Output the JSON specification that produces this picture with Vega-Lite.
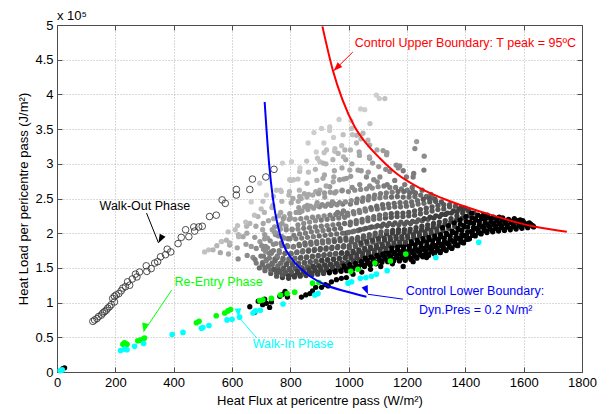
{
"$schema":"https://vega.github.io/schema/vega-lite/v6.json",
"width":525,"height":347,
"autosize":{"type":"none"},
"padding":{"left":57,"top":25,"right":27,"bottom":42},
"background":"white",
"config":{"font":"Liberation Sans","view":{"stroke":"#4d4d4d","strokeWidth":1},
"axis":{"labelFont":"Liberation Sans","titleFont":"Liberation Sans","labelFontSize":13,"titleFontSize":13,"titleFontWeight":"normal","labelColor":"#000","titleColor":"#000","domainColor":"#4d4d4d","tickColor":"#4d4d4d","gridColor":"#b4b4b4","gridDash":[1,2],"gridOpacity":1,"labelFlush":false,"labelOverlap":false}},
"datasets":{
"cloud":[
{"flux":20,"load":0.05,"shade":0},{"flux":26,"load":0.06,"shade":0},
{"flux":661,"load":0.94,"shade":0},{"flux":678,"load":0.86,"shade":0},{"flux":690,"load":1.02,"shade":0},{"flux":705,"load":0.97,"shade":0},{"flux":712,"load":1.05,"shade":0},{"flux":718,"load":0.99,"shade":0},{"flux":729,"load":0.93,"shade":0},{"flux":735,"load":1.01,"shade":0},{"flux":764,"load":1.09,"shade":0},{"flux":773,"load":1.12,"shade":0},{"flux":782,"load":1.16,"shade":0},{"flux":790,"load":1.08,"shade":0},{"flux":838,"load":1.08,"shade":0},{"flux":853,"load":1.11,"shade":0},{"flux":867,"load":1.13,"shade":0},{"flux":876,"load":1.17,"shade":0},{"flux":887,"load":1.22,"shade":0},{"flux":907,"load":1.22,"shade":0},{"flux":920,"load":1.26,"shade":0},{"flux":930,"load":1.24,"shade":0},{"flux":941,"load":1.3,"shade":0},{"flux":958,"load":1.33,"shade":0},{"flux":975,"load":1.35,"shade":0},{"flux":992,"load":1.36,"shade":0},{"flux":1015,"load":1.41,"shade":0},{"flux":1045,"load":1.44,"shade":0},{"flux":1075,"load":1.48,"shade":0},{"flux":1110,"load":1.52,"shade":0},{"flux":1150,"load":1.56,"shade":0},{"flux":1187,"load":1.52,"shade":0},{"flux":1221,"load":1.59,"shade":0},{"flux":1267,"load":1.65,"shade":0},
{"flux":506,"load":1.73,"shade":9},{"flux":520,"load":1.76,"shade":9},{"flux":535,"load":1.76,"shade":8},{"flux":548,"load":1.82,"shade":8},{"flux":565,"load":1.88,"shade":9},{"flux":581,"load":1.9,"shade":8},{"flux":592,"load":1.83,"shade":7},{"flux":611,"load":2.05,"shade":9},{"flux":622,"load":1.98,"shade":8},{"flux":638,"load":1.95,"shade":7},{"flux":650,"load":2.1,"shade":8},{"flux":661,"load":2.14,"shade":8},{"flux":666,"load":1.81,"shade":6},{"flux":672,"load":1.65,"shade":5},{"flux":683,"load":1.57,"shade":4},{"flux":666,"load":2.45,"shade":10},{"flux":689,"load":2.24,"shade":8},{"flux":695,"load":2.72,"shade":10},{"flux":700,"load":2.35,"shade":9},{"flux":705,"load":2.05,"shade":7},{"flux":712,"load":1.92,"shade":6},{"flux":718,"load":2.55,"shade":10},{"flux":725,"load":2.18,"shade":7},{"flux":740,"load":2.4,"shade":8},{"flux":745,"load":2.02,"shade":6},{"flux":752,"load":2.62,"shade":9},{"flux":760,"load":2.25,"shade":7},{"flux":769,"load":2.6,"shade":9},{"flux":773,"load":3.01,"shade":10},{"flux":795,"load":2.55,"shade":8},{"flux":798,"load":2.77,"shade":9},{"flux":804,"load":3.03,"shade":10},{"flux":809,"load":2.5,"shade":7},{"flux":811,"load":2.77,"shade":9},{"flux":832,"load":2.53,"shade":7},{"flux":832,"load":2.89,"shade":9},{"flux":848,"load":2.57,"shade":7},{"flux":861,"load":3.3,"shade":10},{"flux":881,"load":3.45,"shade":10},{"flux":889,"load":3.17,"shade":10},{"flux":901,"load":2.62,"shade":7},{"flux":901,"load":3.03,"shade":9},{"flux":907,"load":3.51,"shade":10},{"flux":912,"load":2.79,"shade":7},{"flux":912,"load":3.01,"shade":8},{"flux":915,"load":3.3,"shade":10},{"flux":924,"load":3.2,"shade":9},{"flux":935,"load":3.53,"shade":10},{"flux":935,"load":3.48,"shade":10},{"flux":935,"load":2.67,"shade":6},{"flux":949,"load":2.81,"shade":7},{"flux":952,"load":3.18,"shade":9},{"flux":964,"load":3.15,"shade":8},{"flux":967,"load":3.64,"shade":10},{"flux":969,"load":2.77,"shade":6},{"flux":987,"load":3.2,"shade":8},{"flux":990,"load":3.06,"shade":7},{"flux":992,"load":2.79,"shade":6},{"flux":1004,"load":2.91,"shade":7},{"flux":1010,"load":3.51,"shade":9},{"flux":1027,"load":3.41,"shade":8},{"flux":1027,"load":3.3,"shade":8},{"flux":1032,"load":2.91,"shade":6},{"flux":1036,"load":3.17,"shade":7},{"flux":1041,"load":3.79,"shade":10},{"flux":1049,"load":3.44,"shade":8},{"flux":1055,"load":3.78,"shade":10},{"flux":1061,"load":2.81,"shade":5},{"flux":1072,"load":3.27,"shade":7},{"flux":1072,"load":3.08,"shade":6},{"flux":1082,"load":3.01,"shade":6},{"flux":1086,"load":2.77,"shade":5},{"flux":1095,"load":3.99,"shade":10},{"flux":1105,"load":3.94,"shade":10},{"flux":1107,"load":2.81,"shade":5},{"flux":1118,"load":3.19,"shade":6},{"flux":1124,"load":3.94,"shade":9},{"flux":1130,"load":3.13,"shade":6},{"flux":1141,"load":2.89,"shade":5},{"flux":1170,"load":2.94,"shade":5},{"flux":1175,"load":2.97,"shade":5},{"flux":1198,"load":2.81,"shade":4},{"flux":1221,"load":2.81,"shade":4},{"flux":1227,"load":3.22,"shade":5},{"flux":1233,"load":3.32,"shade":6},{"flux":1258,"load":2.91,"shade":4},{"flux":1259,"load":3.11,"shade":5},
{"flux":560,"load":1.72,"shade":7},{"flux":563,"load":1.88,"shade":9},{"flux":588,"load":1.7,"shade":7},{"flux":592,"load":1.86,"shade":8},{"flux":587,"load":2.02,"shade":9},{"flux":621,"load":1.63,"shade":5},{"flux":618,"load":1.79,"shade":7},{"flux":623,"load":1.95,"shade":8},{"flux":619,"load":2.11,"shade":9},{"flux":652,"load":1.68,"shade":5},{"flux":648,"load":1.84,"shade":6},{"flux":651,"load":2.0,"shade":7},{"flux":647,"load":2.16,"shade":9},{"flux":679,"load":1.62,"shade":4},{"flux":683,"load":1.78,"shade":5},{"flux":678,"load":1.94,"shade":6},{"flux":682,"load":2.1,"shade":7},{"flux":677,"load":2.26,"shade":9},{"flux":712,"load":1.98,"shade":6},{"flux":707,"load":2.14,"shade":7},{"flux":711,"load":2.3,"shade":8},{"flux":706,"load":2.46,"shade":9},{"flux":738,"load":2.05,"shade":6},{"flux":743,"load":2.21,"shade":7},{"flux":737,"load":2.37,"shade":8},{"flux":742,"load":2.53,"shade":9},{"flux":772,"load":2.14,"shade":6},{"flux":767,"load":2.3,"shade":7},{"flux":771,"load":2.46,"shade":8},{"flux":766,"load":2.62,"shade":9},{"flux":798,"load":2.28,"shade":6},{"flux":803,"load":2.44,"shade":7},{"flux":797,"load":2.6,"shade":8},{"flux":802,"load":2.76,"shade":9},{"flux":832,"load":2.3,"shade":6},{"flux":827,"load":2.46,"shade":7},{"flux":831,"load":2.62,"shade":8},{"flux":826,"load":2.78,"shade":9},{"flux":833,"load":2.94,"shade":10},{"flux":858,"load":2.4,"shade":6},{"flux":863,"load":2.56,"shade":7},{"flux":857,"load":2.72,"shade":8},{"flux":862,"load":2.88,"shade":9},{"flux":856,"load":3.04,"shade":9},{"flux":892,"load":2.44,"shade":6},{"flux":887,"load":2.6,"shade":7},{"flux":891,"load":2.76,"shade":8},{"flux":886,"load":2.92,"shade":8},{"flux":893,"load":3.08,"shade":9},{"flux":918,"load":2.52,"shade":6},{"flux":923,"load":2.68,"shade":7},{"flux":917,"load":2.84,"shade":7},{"flux":922,"load":3.0,"shade":8},{"flux":916,"load":3.16,"shade":9},{"flux":952,"load":2.58,"shade":6},{"flux":947,"load":2.74,"shade":7},{"flux":951,"load":2.9,"shade":7},{"flux":946,"load":3.06,"shade":8},{"flux":953,"load":3.22,"shade":9},{"flux":948,"load":3.38,"shade":10},{"flux":978,"load":2.62,"shade":6},{"flux":983,"load":2.78,"shade":6},{"flux":977,"load":2.94,"shade":7},{"flux":982,"load":3.1,"shade":8},{"flux":976,"load":3.26,"shade":9},{"flux":981,"load":3.42,"shade":9},{"flux":1012,"load":2.66,"shade":5},{"flux":1007,"load":2.82,"shade":6},{"flux":1011,"load":3.0,"shade":7},{"flux":1006,"load":3.2,"shade":8},{"flux":1013,"load":3.42,"shade":9},{"flux":1008,"load":3.62,"shade":10},{"flux":1038,"load":2.7,"shade":5},{"flux":1043,"load":2.9,"shade":6},{"flux":1037,"load":3.12,"shade":7},{"flux":1042,"load":3.36,"shade":8},{"flux":1072,"load":2.68,"shade":5},{"flux":1067,"load":2.88,"shade":6},{"flux":1071,"load":3.1,"shade":7},{"flux":1066,"load":3.34,"shade":8},{"flux":1073,"load":3.58,"shade":9},{"flux":1098,"load":2.74,"shade":5},{"flux":1103,"load":2.96,"shade":6},{"flux":1097,"load":3.2,"shade":7},{"flux":1132,"load":2.7,"shade":4},{"flux":1127,"load":2.92,"shade":5},{"flux":1131,"load":3.16,"shade":6},{"flux":1158,"load":2.76,"shade":4},{"flux":1163,"load":2.98,"shade":5},{"flux":1192,"load":2.7,"shade":4},{"flux":1187,"load":2.9,"shade":4},{"flux":1218,"load":2.66,"shade":3},{"flux":1223,"load":2.86,"shade":4},{"flux":1252,"load":2.62,"shade":3},{"flux":1282,"load":2.56,"shade":3},
{"flux":694,"load":1.5,"shade":3},{"flux":705,"load":1.58,"shade":4},{"flux":699,"load":1.67,"shade":4},{"flux":708,"load":1.77,"shade":5},{"flux":696,"load":1.88,"shade":6},
{"flux":713,"load":1.46,"shade":3},{"flux":724,"load":1.53,"shade":3},{"flux":718,"load":1.62,"shade":4},{"flux":727,"load":1.71,"shade":4},{"flux":715,"load":1.81,"shade":5},{"flux":722,"load":1.93,"shade":6},
{"flux":733,"load":1.42,"shade":2},{"flux":744,"load":1.48,"shade":3},{"flux":738,"load":1.55,"shade":3},{"flux":747,"load":1.63,"shade":3},{"flux":735,"load":1.73,"shade":4},{"flux":742,"load":1.84,"shade":5},{"flux":749,"load":1.98,"shade":5},
{"flux":753,"load":1.38,"shade":2},{"flux":764,"load":1.44,"shade":2},{"flux":758,"load":1.5,"shade":2},{"flux":767,"load":1.57,"shade":3},{"flux":755,"load":1.65,"shade":3},{"flux":762,"load":1.75,"shade":4},{"flux":769,"load":1.86,"shade":4},{"flux":751,"load":2.0,"shade":6},{"flux":765,"load":2.12,"shade":6},
{"flux":773,"load":1.36,"shade":1},{"flux":784,"load":1.42,"shade":2},{"flux":778,"load":1.48,"shade":2},{"flux":787,"load":1.55,"shade":2},{"flux":775,"load":1.62,"shade":3},{"flux":782,"load":1.71,"shade":3},{"flux":789,"load":1.82,"shade":4},{"flux":771,"load":1.95,"shade":5},{"flux":785,"load":2.1,"shade":6},{"flux":779,"load":2.24,"shade":7},
{"flux":794,"load":1.35,"shade":1},{"flux":805,"load":1.41,"shade":1},{"flux":799,"load":1.47,"shade":2},{"flux":808,"load":1.54,"shade":2},{"flux":796,"load":1.61,"shade":3},{"flux":803,"load":1.7,"shade":3},{"flux":810,"load":1.8,"shade":4},{"flux":792,"load":1.92,"shade":4},{"flux":806,"load":2.06,"shade":5},{"flux":800,"load":2.22,"shade":6},
{"flux":814,"load":1.37,"shade":1},{"flux":825,"load":1.43,"shade":1},{"flux":819,"load":1.49,"shade":2},{"flux":828,"load":1.56,"shade":2},{"flux":816,"load":1.64,"shade":3},{"flux":823,"load":1.73,"shade":3},{"flux":830,"load":1.84,"shade":3},{"flux":812,"load":1.97,"shade":4},{"flux":826,"load":2.12,"shade":5},{"flux":820,"load":2.3,"shade":6},
{"flux":834,"load":1.38,"shade":1},{"flux":845,"load":1.44,"shade":1},{"flux":839,"load":1.5,"shade":1},{"flux":848,"load":1.57,"shade":2},{"flux":836,"load":1.65,"shade":2},{"flux":843,"load":1.75,"shade":3},{"flux":850,"load":1.86,"shade":3},{"flux":832,"load":1.99,"shade":4},{"flux":846,"load":2.14,"shade":5},{"flux":840,"load":2.32,"shade":6},{"flux":837,"load":2.5,"shade":7},
{"flux":854,"load":1.39,"shade":1},{"flux":865,"load":1.45,"shade":1},{"flux":859,"load":1.51,"shade":1},{"flux":868,"load":1.58,"shade":2},{"flux":856,"load":1.66,"shade":2},{"flux":863,"load":1.76,"shade":3},{"flux":870,"load":1.87,"shade":3},{"flux":852,"load":2.0,"shade":4},{"flux":866,"load":2.16,"shade":5},{"flux":860,"load":2.34,"shade":6},{"flux":857,"load":2.52,"shade":7},
{"flux":874,"load":1.4,"shade":1},{"flux":885,"load":1.46,"shade":1},{"flux":879,"load":1.52,"shade":1},{"flux":888,"load":1.59,"shade":2},{"flux":876,"load":1.67,"shade":2},{"flux":883,"load":1.77,"shade":3},{"flux":890,"load":1.88,"shade":3},{"flux":872,"load":2.02,"shade":4},{"flux":886,"load":2.18,"shade":5},{"flux":880,"load":2.36,"shade":6},{"flux":877,"load":2.55,"shade":7},
{"flux":894,"load":1.41,"shade":1},{"flux":905,"load":1.47,"shade":1},{"flux":899,"load":1.53,"shade":1},{"flux":908,"load":1.6,"shade":1},{"flux":896,"load":1.68,"shade":2},{"flux":903,"load":1.78,"shade":2},{"flux":910,"load":1.89,"shade":3},{"flux":892,"load":2.03,"shade":4},{"flux":906,"load":2.19,"shade":4},{"flux":900,"load":2.38,"shade":5},{"flux":897,"load":2.57,"shade":6},
{"flux":914,"load":1.42,"shade":1},{"flux":925,"load":1.48,"shade":1},{"flux":919,"load":1.54,"shade":1},{"flux":928,"load":1.61,"shade":1},{"flux":916,"load":1.69,"shade":2},{"flux":923,"load":1.79,"shade":2},{"flux":930,"load":1.9,"shade":3},{"flux":912,"load":2.04,"shade":4},{"flux":926,"load":2.2,"shade":4},{"flux":920,"load":2.39,"shade":5},{"flux":917,"load":2.58,"shade":6},
{"flux":934,"load":1.43,"shade":0},{"flux":945,"load":1.49,"shade":1},{"flux":939,"load":1.55,"shade":1},{"flux":948,"load":1.62,"shade":1},{"flux":936,"load":1.7,"shade":2},{"flux":943,"load":1.8,"shade":2},{"flux":950,"load":1.91,"shade":3},{"flux":932,"load":2.05,"shade":3},{"flux":946,"load":2.21,"shade":4},{"flux":940,"load":2.4,"shade":5},{"flux":937,"load":2.59,"shade":6},{"flux":944,"load":2.45,"shade":5},
{"flux":954,"load":1.44,"shade":0},{"flux":965,"load":1.5,"shade":1},{"flux":959,"load":1.56,"shade":1},{"flux":968,"load":1.63,"shade":1},{"flux":956,"load":1.71,"shade":2},{"flux":963,"load":1.81,"shade":2},{"flux":970,"load":1.92,"shade":2},{"flux":952,"load":2.06,"shade":3},{"flux":966,"load":2.22,"shade":4},{"flux":960,"load":2.41,"shade":5},{"flux":957,"load":2.6,"shade":6},{"flux":962,"load":2.3,"shade":4},
{"flux":974,"load":1.45,"shade":0},{"flux":985,"load":1.51,"shade":0},{"flux":979,"load":1.57,"shade":1},{"flux":988,"load":1.64,"shade":1},{"flux":976,"load":1.72,"shade":1},{"flux":983,"load":1.82,"shade":2},{"flux":990,"load":1.93,"shade":2},{"flux":972,"load":2.07,"shade":3},{"flux":986,"load":2.23,"shade":4},{"flux":980,"load":2.42,"shade":4},{"flux":977,"load":2.61,"shade":5},{"flux":982,"load":2.32,"shade":4},
{"flux":993,"load":1.46,"shade":0},{"flux":1004,"load":1.52,"shade":0},{"flux":998,"load":1.57,"shade":1},{"flux":1008,"load":1.64,"shade":1},{"flux":995,"load":1.7,"shade":1},{"flux":1002,"load":1.79,"shade":2},{"flux":1009,"load":1.88,"shade":2},{"flux":991,"load":2.0,"shade":2},{"flux":1005,"load":2.12,"shade":3},{"flux":997,"load":2.26,"shade":4},{"flux":1006,"load":2.42,"shade":4},{"flux":999,"load":2.6,"shade":5},
{"flux":1014,"load":1.48,"shade":0},{"flux":1025,"load":1.53,"shade":0},{"flux":1019,"load":1.58,"shade":1},{"flux":1028,"load":1.65,"shade":1},{"flux":1016,"load":1.72,"shade":1},{"flux":1023,"load":1.81,"shade":2},{"flux":1030,"load":1.9,"shade":2},{"flux":1012,"load":2.02,"shade":3},{"flux":1026,"load":2.14,"shade":3},{"flux":1018,"load":2.28,"shade":4},{"flux":1027,"load":2.44,"shade":4},{"flux":1021,"load":2.62,"shade":5},
{"flux":1034,"load":1.5,"shade":0},{"flux":1045,"load":1.55,"shade":0},{"flux":1039,"load":1.6,"shade":1},{"flux":1048,"load":1.67,"shade":1},{"flux":1036,"load":1.74,"shade":1},{"flux":1043,"load":1.83,"shade":2},{"flux":1050,"load":1.92,"shade":2},{"flux":1032,"load":2.04,"shade":3},{"flux":1046,"load":2.16,"shade":3},{"flux":1038,"load":2.3,"shade":4},{"flux":1047,"load":2.46,"shade":4},{"flux":1041,"load":2.63,"shade":5},
{"flux":1054,"load":1.52,"shade":0},{"flux":1065,"load":1.57,"shade":0},{"flux":1059,"load":1.62,"shade":1},{"flux":1068,"load":1.69,"shade":1},{"flux":1056,"load":1.76,"shade":1},{"flux":1063,"load":1.85,"shade":2},{"flux":1070,"load":1.94,"shade":2},{"flux":1052,"load":2.06,"shade":3},{"flux":1066,"load":2.18,"shade":3},{"flux":1058,"load":2.32,"shade":4},{"flux":1067,"load":2.48,"shade":4},{"flux":1061,"load":2.64,"shade":5},
{"flux":1074,"load":1.54,"shade":0},{"flux":1085,"load":1.59,"shade":0},{"flux":1079,"load":1.64,"shade":1},{"flux":1088,"load":1.71,"shade":1},{"flux":1076,"load":1.78,"shade":1},{"flux":1083,"load":1.87,"shade":2},{"flux":1090,"load":1.96,"shade":2},{"flux":1072,"load":2.08,"shade":3},{"flux":1086,"load":2.2,"shade":3},{"flux":1078,"load":2.34,"shade":4},{"flux":1087,"load":2.5,"shade":4},{"flux":1081,"load":2.65,"shade":5},
{"flux":1094,"load":1.56,"shade":0},{"flux":1105,"load":1.61,"shade":0},{"flux":1099,"load":1.66,"shade":1},{"flux":1108,"load":1.72,"shade":1},{"flux":1096,"load":1.79,"shade":1},{"flux":1103,"load":1.88,"shade":2},{"flux":1110,"load":1.97,"shade":2},{"flux":1092,"load":2.09,"shade":3},{"flux":1106,"load":2.21,"shade":3},{"flux":1098,"load":2.35,"shade":3},{"flux":1107,"load":2.51,"shade":4},{"flux":1101,"load":2.67,"shade":5},
{"flux":1114,"load":1.58,"shade":0},{"flux":1125,"load":1.63,"shade":0},{"flux":1119,"load":1.68,"shade":0},{"flux":1128,"load":1.74,"shade":0},{"flux":1116,"load":1.81,"shade":1},{"flux":1123,"load":1.9,"shade":1},{"flux":1130,"load":1.99,"shade":1},{"flux":1112,"load":2.1,"shade":2},{"flux":1126,"load":2.22,"shade":2},{"flux":1118,"load":2.36,"shade":3},{"flux":1127,"load":2.52,"shade":4},{"flux":1121,"load":2.68,"shade":4},
{"flux":1134,"load":1.59,"shade":0},{"flux":1145,"load":1.64,"shade":0},{"flux":1139,"load":1.69,"shade":0},{"flux":1148,"load":1.75,"shade":0},{"flux":1136,"load":1.82,"shade":1},{"flux":1143,"load":1.91,"shade":1},{"flux":1150,"load":2.0,"shade":1},{"flux":1132,"load":2.11,"shade":2},{"flux":1146,"load":2.23,"shade":2},{"flux":1138,"load":2.37,"shade":3},{"flux":1147,"load":2.52,"shade":3},{"flux":1141,"load":2.66,"shade":4},
{"flux":1154,"load":1.6,"shade":0},{"flux":1165,"load":1.65,"shade":0},{"flux":1159,"load":1.7,"shade":0},{"flux":1168,"load":1.76,"shade":0},{"flux":1156,"load":1.83,"shade":1},{"flux":1163,"load":1.92,"shade":1},{"flux":1170,"load":2.01,"shade":1},{"flux":1152,"load":2.12,"shade":2},{"flux":1166,"load":2.24,"shade":2},{"flux":1158,"load":2.38,"shade":3},{"flux":1167,"load":2.53,"shade":3},{"flux":1161,"load":2.66,"shade":4},
{"flux":1174,"load":1.6,"shade":0},{"flux":1185,"load":1.65,"shade":0},{"flux":1179,"load":1.7,"shade":0},{"flux":1188,"load":1.76,"shade":0},{"flux":1176,"load":1.83,"shade":0},{"flux":1183,"load":1.92,"shade":1},{"flux":1190,"load":2.01,"shade":1},{"flux":1172,"load":2.12,"shade":2},{"flux":1186,"load":2.24,"shade":2},{"flux":1178,"load":2.38,"shade":3},{"flux":1187,"load":2.52,"shade":3},{"flux":1181,"load":2.64,"shade":4},
{"flux":1194,"load":1.61,"shade":0},{"flux":1205,"load":1.66,"shade":0},{"flux":1199,"load":1.71,"shade":0},{"flux":1208,"load":1.77,"shade":0},{"flux":1196,"load":1.84,"shade":0},{"flux":1203,"load":1.93,"shade":1},{"flux":1210,"load":2.02,"shade":1},{"flux":1192,"load":2.13,"shade":2},{"flux":1206,"load":2.25,"shade":2},{"flux":1198,"load":2.39,"shade":3},{"flux":1207,"load":2.52,"shade":3},{"flux":1201,"load":2.62,"shade":4},
{"flux":1214,"load":1.62,"shade":0},{"flux":1225,"load":1.67,"shade":0},{"flux":1219,"load":1.72,"shade":0},{"flux":1228,"load":1.78,"shade":0},{"flux":1216,"load":1.85,"shade":0},{"flux":1223,"load":1.94,"shade":1},{"flux":1230,"load":2.03,"shade":1},{"flux":1212,"load":2.14,"shade":2},{"flux":1226,"load":2.26,"shade":2},{"flux":1218,"load":2.4,"shade":3},{"flux":1227,"load":2.53,"shade":3},{"flux":1221,"load":2.6,"shade":3},
{"flux":1234,"load":1.64,"shade":0},{"flux":1245,"load":1.69,"shade":0},{"flux":1239,"load":1.74,"shade":0},{"flux":1248,"load":1.8,"shade":0},{"flux":1236,"load":1.87,"shade":0},{"flux":1243,"load":1.96,"shade":1},{"flux":1250,"load":2.05,"shade":1},{"flux":1232,"load":2.16,"shade":2},{"flux":1246,"load":2.28,"shade":2},{"flux":1238,"load":2.42,"shade":3},{"flux":1247,"load":2.55,"shade":3},
{"flux":1254,"load":1.66,"shade":0},{"flux":1265,"load":1.71,"shade":0},{"flux":1259,"load":1.76,"shade":0},{"flux":1268,"load":1.82,"shade":0},{"flux":1256,"load":1.89,"shade":0},{"flux":1263,"load":1.98,"shade":1},{"flux":1270,"load":2.07,"shade":1},{"flux":1252,"load":2.18,"shade":2},{"flux":1266,"load":2.3,"shade":2},{"flux":1258,"load":2.43,"shade":3},{"flux":1267,"load":2.53,"shade":3},
{"flux":1274,"load":1.68,"shade":0},{"flux":1285,"load":1.73,"shade":0},{"flux":1279,"load":1.78,"shade":0},{"flux":1288,"load":1.84,"shade":0},{"flux":1276,"load":1.91,"shade":0},{"flux":1283,"load":2.0,"shade":1},{"flux":1290,"load":2.09,"shade":1},{"flux":1272,"load":2.2,"shade":2},{"flux":1286,"load":2.32,"shade":2},{"flux":1278,"load":2.45,"shade":2},{"flux":1287,"load":2.51,"shade":3},
{"flux":1294,"load":1.7,"shade":0},{"flux":1305,"load":1.75,"shade":0},{"flux":1299,"load":1.8,"shade":0},{"flux":1308,"load":1.86,"shade":0},{"flux":1296,"load":1.93,"shade":0},{"flux":1303,"load":2.02,"shade":1},{"flux":1310,"load":2.11,"shade":1},{"flux":1292,"load":2.22,"shade":1},{"flux":1306,"load":2.34,"shade":2},{"flux":1298,"load":2.46,"shade":2},
{"flux":1314,"load":1.72,"shade":0},{"flux":1325,"load":1.77,"shade":0},{"flux":1319,"load":1.82,"shade":0},{"flux":1328,"load":1.88,"shade":0},{"flux":1316,"load":1.95,"shade":0},{"flux":1323,"load":2.04,"shade":1},{"flux":1330,"load":2.13,"shade":1},{"flux":1312,"load":2.24,"shade":1},{"flux":1326,"load":2.35,"shade":2},{"flux":1318,"load":2.45,"shade":2},
{"flux":1334,"load":1.75,"shade":0},{"flux":1345,"load":1.8,"shade":0},{"flux":1339,"load":1.85,"shade":0},{"flux":1348,"load":1.91,"shade":0},{"flux":1336,"load":1.98,"shade":0},{"flux":1343,"load":2.07,"shade":1},{"flux":1350,"load":2.16,"shade":1},{"flux":1332,"load":2.27,"shade":1},{"flux":1346,"load":2.38,"shade":2},
{"flux":1354,"load":1.78,"shade":0},{"flux":1365,"load":1.83,"shade":0},{"flux":1359,"load":1.88,"shade":0},{"flux":1368,"load":1.94,"shade":0},{"flux":1356,"load":2.01,"shade":0},{"flux":1363,"load":2.1,"shade":1},{"flux":1370,"load":2.19,"shade":1},{"flux":1352,"load":2.29,"shade":1},{"flux":1366,"load":2.39,"shade":2},
{"flux":1374,"load":1.82,"shade":0},{"flux":1385,"load":1.87,"shade":0},{"flux":1379,"load":1.92,"shade":0},{"flux":1388,"load":1.98,"shade":0},{"flux":1376,"load":2.05,"shade":0},{"flux":1383,"load":2.13,"shade":0},{"flux":1390,"load":2.22,"shade":1},{"flux":1372,"load":2.31,"shade":1},{"flux":1386,"load":2.37,"shade":1},
{"flux":1394,"load":1.86,"shade":0},{"flux":1405,"load":1.91,"shade":0},{"flux":1399,"load":1.96,"shade":0},{"flux":1408,"load":2.02,"shade":0},{"flux":1396,"load":2.09,"shade":0},{"flux":1403,"load":2.17,"shade":0},{"flux":1410,"load":2.25,"shade":1},{"flux":1392,"load":2.33,"shade":1},
{"flux":1414,"load":1.92,"shade":0},{"flux":1425,"load":1.97,"shade":0},{"flux":1419,"load":2.02,"shade":0},{"flux":1428,"load":2.08,"shade":0},{"flux":1416,"load":2.15,"shade":0},{"flux":1423,"load":2.22,"shade":0},{"flux":1430,"load":2.29,"shade":1},
{"flux":1434,"load":1.96,"shade":0},{"flux":1445,"load":2.01,"shade":0},{"flux":1439,"load":2.06,"shade":0},{"flux":1448,"load":2.12,"shade":0},{"flux":1436,"load":2.19,"shade":0},{"flux":1443,"load":2.26,"shade":0},
{"flux":1454,"load":1.99,"shade":0},{"flux":1465,"load":2.04,"shade":0},{"flux":1459,"load":2.09,"shade":0},{"flux":1468,"load":2.15,"shade":0},{"flux":1456,"load":2.21,"shade":0},{"flux":1463,"load":2.27,"shade":0},
{"flux":1474,"load":2.01,"shade":0},{"flux":1485,"load":2.06,"shade":0},{"flux":1479,"load":2.11,"shade":0},{"flux":1488,"load":2.17,"shade":0},{"flux":1476,"load":2.23,"shade":0},
{"flux":1494,"load":2.02,"shade":0},{"flux":1505,"load":2.07,"shade":0},{"flux":1499,"load":2.12,"shade":0},{"flux":1508,"load":2.18,"shade":0},{"flux":1496,"load":2.23,"shade":0},
{"flux":1514,"load":2.03,"shade":0},{"flux":1525,"load":2.08,"shade":0},{"flux":1519,"load":2.13,"shade":0},{"flux":1528,"load":2.19,"shade":0},{"flux":1516,"load":2.23,"shade":0},
{"flux":1534,"load":2.04,"shade":0},{"flux":1545,"load":2.09,"shade":0},{"flux":1539,"load":2.14,"shade":0},{"flux":1548,"load":2.2,"shade":0},
{"flux":1554,"load":2.05,"shade":0},{"flux":1565,"load":2.1,"shade":0},{"flux":1559,"load":2.15,"shade":0},{"flux":1568,"load":2.21,"shade":0},
{"flux":1574,"load":2.06,"shade":0},{"flux":1585,"load":2.11,"shade":0},{"flux":1579,"load":2.16,"shade":0},{"flux":1588,"load":2.19,"shade":0},
{"flux":1594,"load":2.07,"shade":0},{"flux":1605,"load":2.12,"shade":0},{"flux":1599,"load":2.16,"shade":0},
{"flux":1614,"load":2.08,"shade":0},{"flux":1625,"load":2.12,"shade":0},{"flux":1619,"load":2.15,"shade":0},
{"flux":1634,"load":2.09,"shade":0},{"flux":1630,"load":2.11,"shade":0},
{"flux":713,"load":1.5,"shade":3},{"flux":704,"load":1.55,"shade":3},{"flux":717,"load":1.6,"shade":4},{"flux":708,"load":1.67,"shade":4},{"flux":715,"load":1.74,"shade":5},{"flux":702,"load":1.82,"shade":5},
{"flux":733,"load":1.47,"shade":3},{"flux":724,"load":1.52,"shade":3},{"flux":737,"load":1.57,"shade":3},{"flux":728,"load":1.64,"shade":4},{"flux":735,"load":1.71,"shade":4},{"flux":722,"load":1.79,"shade":5},{"flux":731,"load":1.89,"shade":5},
{"flux":753,"load":1.43,"shade":2},{"flux":744,"load":1.48,"shade":2},{"flux":757,"load":1.53,"shade":3},{"flux":748,"load":1.6,"shade":3},{"flux":755,"load":1.67,"shade":4},{"flux":742,"load":1.75,"shade":4},{"flux":751,"load":1.85,"shade":5},{"flux":759,"load":1.96,"shade":5},{"flux":746,"load":2.09,"shade":6},
{"flux":773,"load":1.4,"shade":2},{"flux":764,"load":1.45,"shade":2},{"flux":777,"load":1.5,"shade":2},{"flux":768,"load":1.57,"shade":3},{"flux":775,"load":1.64,"shade":3},{"flux":762,"load":1.72,"shade":4},{"flux":771,"load":1.82,"shade":4},{"flux":779,"load":1.93,"shade":5},{"flux":766,"load":2.06,"shade":6},{"flux":776,"load":2.21,"shade":6},
{"flux":793,"load":1.39,"shade":1},{"flux":784,"load":1.44,"shade":2},{"flux":797,"load":1.49,"shade":2},{"flux":788,"load":1.56,"shade":2},{"flux":795,"load":1.63,"shade":3},{"flux":782,"load":1.71,"shade":3},{"flux":791,"load":1.81,"shade":4},{"flux":799,"load":1.92,"shade":4},{"flux":786,"load":2.05,"shade":5},{"flux":796,"load":2.2,"shade":6},
{"flux":813,"load":1.39,"shade":1},{"flux":804,"load":1.44,"shade":2},{"flux":817,"load":1.49,"shade":2},{"flux":808,"load":1.56,"shade":2},{"flux":815,"load":1.63,"shade":3},{"flux":802,"load":1.71,"shade":3},{"flux":811,"load":1.81,"shade":4},{"flux":819,"load":1.92,"shade":4},{"flux":806,"load":2.05,"shade":5},{"flux":816,"load":2.2,"shade":6},
{"flux":833,"load":1.4,"shade":1},{"flux":824,"load":1.45,"shade":1},{"flux":837,"load":1.5,"shade":2},{"flux":828,"load":1.57,"shade":2},{"flux":835,"load":1.64,"shade":2},{"flux":822,"load":1.72,"shade":3},{"flux":831,"load":1.82,"shade":3},{"flux":839,"load":1.93,"shade":4},{"flux":826,"load":2.06,"shade":5},{"flux":836,"load":2.21,"shade":5},{"flux":829,"load":2.37,"shade":6},
{"flux":853,"load":1.41,"shade":1},{"flux":844,"load":1.46,"shade":1},{"flux":857,"load":1.51,"shade":2},{"flux":848,"load":1.58,"shade":2},{"flux":855,"load":1.65,"shade":2},{"flux":842,"load":1.73,"shade":3},{"flux":851,"load":1.83,"shade":3},{"flux":859,"load":1.94,"shade":4},{"flux":846,"load":2.07,"shade":4},{"flux":856,"load":2.22,"shade":5},{"flux":849,"load":2.38,"shade":6},
{"flux":873,"load":1.42,"shade":1},{"flux":864,"load":1.47,"shade":1},{"flux":877,"load":1.52,"shade":1},{"flux":868,"load":1.59,"shade":2},{"flux":875,"load":1.66,"shade":2},{"flux":862,"load":1.74,"shade":2},{"flux":871,"load":1.84,"shade":3},{"flux":879,"load":1.95,"shade":4},{"flux":866,"load":2.08,"shade":4},{"flux":876,"load":2.23,"shade":5},{"flux":869,"load":2.39,"shade":6},
{"flux":893,"load":1.43,"shade":1},{"flux":884,"load":1.48,"shade":1},{"flux":897,"load":1.53,"shade":1},{"flux":888,"load":1.6,"shade":2},{"flux":895,"load":1.67,"shade":2},{"flux":882,"load":1.75,"shade":2},{"flux":891,"load":1.85,"shade":3},{"flux":899,"load":1.96,"shade":3},{"flux":886,"load":2.09,"shade":4},{"flux":896,"load":2.24,"shade":5},{"flux":889,"load":2.4,"shade":6},
{"flux":913,"load":1.44,"shade":1},{"flux":904,"load":1.49,"shade":1},{"flux":917,"load":1.54,"shade":1},{"flux":908,"load":1.61,"shade":1},{"flux":915,"load":1.68,"shade":2},{"flux":902,"load":1.76,"shade":2},{"flux":911,"load":1.86,"shade":3},{"flux":919,"load":1.97,"shade":3},{"flux":906,"load":2.1,"shade":4},{"flux":916,"load":2.25,"shade":5},{"flux":909,"load":2.41,"shade":5},
{"flux":933,"load":1.45,"shade":0},{"flux":924,"load":1.5,"shade":1},{"flux":937,"load":1.55,"shade":1},{"flux":928,"load":1.62,"shade":1},{"flux":935,"load":1.69,"shade":2},{"flux":922,"load":1.77,"shade":2},{"flux":931,"load":1.87,"shade":3},{"flux":939,"load":1.98,"shade":3},{"flux":926,"load":2.11,"shade":4},{"flux":936,"load":2.26,"shade":4},{"flux":929,"load":2.42,"shade":5},
{"flux":953,"load":1.46,"shade":0},{"flux":944,"load":1.51,"shade":1},{"flux":957,"load":1.56,"shade":1},{"flux":948,"load":1.63,"shade":1},{"flux":955,"load":1.7,"shade":2},{"flux":942,"load":1.78,"shade":2},{"flux":951,"load":1.88,"shade":2},{"flux":959,"load":1.99,"shade":3},{"flux":946,"load":2.12,"shade":4},{"flux":956,"load":2.27,"shade":4},{"flux":949,"load":2.43,"shade":5},
{"flux":973,"load":1.47,"shade":0},{"flux":964,"load":1.52,"shade":1},{"flux":977,"load":1.57,"shade":1},{"flux":968,"load":1.64,"shade":1},{"flux":975,"load":1.71,"shade":1},{"flux":962,"load":1.79,"shade":2},{"flux":971,"load":1.89,"shade":2},{"flux":979,"load":2.0,"shade":3},{"flux":966,"load":2.13,"shade":3},{"flux":976,"load":2.28,"shade":4},{"flux":969,"load":2.44,"shade":5},
{"flux":993,"load":1.48,"shade":0},{"flux":984,"load":1.53,"shade":0},{"flux":997,"load":1.58,"shade":1},{"flux":988,"load":1.65,"shade":1},{"flux":995,"load":1.72,"shade":1},{"flux":982,"load":1.8,"shade":2},{"flux":991,"load":1.9,"shade":2},{"flux":999,"load":2.01,"shade":3},{"flux":986,"load":2.14,"shade":3},{"flux":996,"load":2.29,"shade":4},{"flux":989,"load":2.45,"shade":5},
{"flux":1013,"load":1.5,"shade":0},{"flux":1004,"load":1.55,"shade":0},{"flux":1017,"load":1.6,"shade":1},{"flux":1008,"load":1.67,"shade":1},{"flux":1015,"load":1.74,"shade":1},{"flux":1002,"load":1.82,"shade":2},{"flux":1011,"load":1.92,"shade":2},{"flux":1019,"load":2.03,"shade":3},{"flux":1006,"load":2.16,"shade":3},{"flux":1016,"load":2.31,"shade":4},{"flux":1009,"load":2.47,"shade":5},
{"flux":1033,"load":1.52,"shade":0},{"flux":1024,"load":1.57,"shade":0},{"flux":1037,"load":1.62,"shade":1},{"flux":1028,"load":1.69,"shade":1},{"flux":1035,"load":1.76,"shade":1},{"flux":1022,"load":1.84,"shade":2},{"flux":1031,"load":1.94,"shade":2},{"flux":1039,"load":2.05,"shade":2},{"flux":1026,"load":2.18,"shade":3},{"flux":1036,"load":2.33,"shade":4},{"flux":1029,"load":2.49,"shade":4},
{"flux":1053,"load":1.54,"shade":0},{"flux":1044,"load":1.59,"shade":0},{"flux":1057,"load":1.64,"shade":0},{"flux":1048,"load":1.71,"shade":1},{"flux":1055,"load":1.78,"shade":1},{"flux":1042,"load":1.86,"shade":1},{"flux":1051,"load":1.96,"shade":2},{"flux":1059,"load":2.07,"shade":2},{"flux":1046,"load":2.2,"shade":3},{"flux":1056,"load":2.35,"shade":4},{"flux":1049,"load":2.51,"shade":4},
{"flux":1073,"load":1.56,"shade":0},{"flux":1064,"load":1.61,"shade":0},{"flux":1077,"load":1.66,"shade":0},{"flux":1068,"load":1.73,"shade":1},{"flux":1075,"load":1.8,"shade":1},{"flux":1062,"load":1.88,"shade":1},{"flux":1071,"load":1.98,"shade":2},{"flux":1079,"load":2.09,"shade":2},{"flux":1066,"load":2.22,"shade":3},{"flux":1076,"load":2.37,"shade":3},{"flux":1069,"load":2.53,"shade":4},
{"flux":1093,"load":1.58,"shade":0},{"flux":1084,"load":1.63,"shade":0},{"flux":1097,"load":1.68,"shade":0},{"flux":1088,"load":1.75,"shade":1},{"flux":1095,"load":1.82,"shade":1},{"flux":1082,"load":1.9,"shade":1},{"flux":1091,"load":2.0,"shade":2},{"flux":1099,"load":2.11,"shade":2},{"flux":1086,"load":2.24,"shade":3},{"flux":1096,"load":2.39,"shade":3},{"flux":1089,"load":2.55,"shade":4},
{"flux":1113,"load":1.6,"shade":0},{"flux":1104,"load":1.65,"shade":0},{"flux":1117,"load":1.7,"shade":0},{"flux":1108,"load":1.77,"shade":1},{"flux":1115,"load":1.84,"shade":1},{"flux":1102,"load":1.92,"shade":1},{"flux":1111,"load":2.02,"shade":2},{"flux":1119,"load":2.13,"shade":2},{"flux":1106,"load":2.26,"shade":3},{"flux":1116,"load":2.41,"shade":3},{"flux":1109,"load":2.57,"shade":4},
{"flux":1133,"load":1.61,"shade":0},{"flux":1124,"load":1.66,"shade":0},{"flux":1137,"load":1.71,"shade":0},{"flux":1128,"load":1.78,"shade":1},{"flux":1135,"load":1.85,"shade":1},{"flux":1122,"load":1.93,"shade":1},{"flux":1131,"load":2.03,"shade":2},{"flux":1139,"load":2.14,"shade":2},{"flux":1126,"load":2.27,"shade":3},{"flux":1136,"load":2.42,"shade":3},{"flux":1129,"load":2.58,"shade":4},
{"flux":1153,"load":1.62,"shade":0},{"flux":1144,"load":1.67,"shade":0},{"flux":1157,"load":1.72,"shade":0},{"flux":1148,"load":1.79,"shade":0},{"flux":1155,"load":1.86,"shade":1},{"flux":1142,"load":1.94,"shade":1},{"flux":1151,"load":2.04,"shade":1},{"flux":1159,"load":2.15,"shade":2},{"flux":1146,"load":2.28,"shade":2},{"flux":1156,"load":2.43,"shade":3},{"flux":1149,"load":2.59,"shade":4},
{"flux":1173,"load":1.63,"shade":0},{"flux":1164,"load":1.68,"shade":0},{"flux":1177,"load":1.73,"shade":0},{"flux":1168,"load":1.8,"shade":0},{"flux":1175,"load":1.87,"shade":1},{"flux":1162,"load":1.95,"shade":1},{"flux":1171,"load":2.05,"shade":1},{"flux":1179,"load":2.16,"shade":2},{"flux":1166,"load":2.29,"shade":2},{"flux":1176,"load":2.44,"shade":3},{"flux":1169,"load":2.6,"shade":3},
{"flux":1193,"load":1.63,"shade":0},{"flux":1184,"load":1.68,"shade":0},{"flux":1197,"load":1.73,"shade":0},{"flux":1188,"load":1.8,"shade":0},{"flux":1195,"load":1.87,"shade":1},{"flux":1182,"load":1.95,"shade":1},{"flux":1191,"load":2.05,"shade":1},{"flux":1199,"load":2.16,"shade":2},{"flux":1186,"load":2.29,"shade":2},{"flux":1196,"load":2.44,"shade":3},{"flux":1189,"load":2.6,"shade":3},
{"flux":1213,"load":1.64,"shade":0},{"flux":1204,"load":1.69,"shade":0},{"flux":1217,"load":1.74,"shade":0},{"flux":1208,"load":1.81,"shade":0},{"flux":1215,"load":1.88,"shade":0},{"flux":1202,"load":1.96,"shade":1},{"flux":1211,"load":2.06,"shade":1},{"flux":1219,"load":2.17,"shade":2},{"flux":1206,"load":2.3,"shade":2},{"flux":1216,"load":2.45,"shade":3},{"flux":1209,"load":2.58,"shade":3},
{"flux":1233,"load":1.66,"shade":0},{"flux":1224,"load":1.71,"shade":0},{"flux":1237,"load":1.76,"shade":0},{"flux":1228,"load":1.83,"shade":0},{"flux":1235,"load":1.9,"shade":0},{"flux":1222,"load":1.98,"shade":1},{"flux":1231,"load":2.08,"shade":1},{"flux":1239,"load":2.19,"shade":2},{"flux":1226,"load":2.32,"shade":2},{"flux":1236,"load":2.47,"shade":3},{"flux":1229,"load":2.58,"shade":3},
{"flux":1253,"load":1.68,"shade":0},{"flux":1244,"load":1.73,"shade":0},{"flux":1257,"load":1.78,"shade":0},{"flux":1248,"load":1.85,"shade":0},{"flux":1255,"load":1.92,"shade":0},{"flux":1242,"load":2.0,"shade":1},{"flux":1251,"load":2.1,"shade":1},{"flux":1259,"load":2.21,"shade":1},{"flux":1246,"load":2.34,"shade":2},{"flux":1256,"load":2.49,"shade":2},
{"flux":1273,"load":1.7,"shade":0},{"flux":1264,"load":1.75,"shade":0},{"flux":1277,"load":1.8,"shade":0},{"flux":1268,"load":1.87,"shade":0},{"flux":1275,"load":1.94,"shade":0},{"flux":1262,"load":2.02,"shade":1},{"flux":1271,"load":2.12,"shade":1},{"flux":1279,"load":2.23,"shade":1},{"flux":1266,"load":2.36,"shade":2},{"flux":1276,"load":2.5,"shade":2},
{"flux":1293,"load":1.72,"shade":0},{"flux":1284,"load":1.77,"shade":0},{"flux":1297,"load":1.82,"shade":0},{"flux":1288,"load":1.89,"shade":0},{"flux":1295,"load":1.96,"shade":0},{"flux":1282,"load":2.04,"shade":1},{"flux":1291,"load":2.14,"shade":1},{"flux":1299,"load":2.25,"shade":1},{"flux":1286,"load":2.38,"shade":2},{"flux":1296,"load":2.49,"shade":2},
{"flux":1313,"load":1.74,"shade":0},{"flux":1304,"load":1.79,"shade":0},{"flux":1317,"load":1.84,"shade":0},{"flux":1308,"load":1.91,"shade":0},{"flux":1315,"load":1.98,"shade":0},{"flux":1302,"load":2.06,"shade":1},{"flux":1311,"load":2.16,"shade":1},{"flux":1319,"load":2.27,"shade":1},{"flux":1306,"load":2.4,"shade":2},
{"flux":1333,"load":1.76,"shade":0},{"flux":1324,"load":1.81,"shade":0},{"flux":1337,"load":1.86,"shade":0},{"flux":1328,"load":1.93,"shade":0},{"flux":1335,"load":2.0,"shade":0},{"flux":1322,"load":2.08,"shade":0},{"flux":1331,"load":2.18,"shade":1},{"flux":1339,"load":2.29,"shade":1},{"flux":1326,"load":2.41,"shade":2},
{"flux":1353,"load":1.79,"shade":0},{"flux":1344,"load":1.84,"shade":0},{"flux":1357,"load":1.89,"shade":0},{"flux":1348,"load":1.96,"shade":0},{"flux":1355,"load":2.03,"shade":0},{"flux":1342,"load":2.11,"shade":0},{"flux":1351,"load":2.21,"shade":1},{"flux":1359,"load":2.32,"shade":1},{"flux":1346,"load":2.41,"shade":2},
{"flux":1373,"load":1.83,"shade":0},{"flux":1364,"load":1.88,"shade":0},{"flux":1377,"load":1.93,"shade":0},{"flux":1368,"load":2.0,"shade":0},{"flux":1375,"load":2.07,"shade":0},{"flux":1362,"load":2.15,"shade":0},{"flux":1371,"load":2.25,"shade":1},{"flux":1379,"load":2.35,"shade":1},
{"flux":1393,"load":1.87,"shade":0},{"flux":1384,"load":1.92,"shade":0},{"flux":1397,"load":1.97,"shade":0},{"flux":1388,"load":2.04,"shade":0},{"flux":1395,"load":2.11,"shade":0},{"flux":1382,"load":2.19,"shade":0},{"flux":1391,"load":2.29,"shade":1},{"flux":1399,"load":2.36,"shade":1},
{"flux":1413,"load":1.92,"shade":0},{"flux":1404,"load":1.97,"shade":0},{"flux":1417,"load":2.02,"shade":0},{"flux":1408,"load":2.09,"shade":0},{"flux":1415,"load":2.16,"shade":0},{"flux":1402,"load":2.24,"shade":0},{"flux":1411,"load":2.32,"shade":1},
{"flux":1433,"load":1.97,"shade":0},{"flux":1424,"load":2.02,"shade":0},{"flux":1437,"load":2.07,"shade":0},{"flux":1428,"load":2.14,"shade":0},{"flux":1435,"load":2.21,"shade":0},{"flux":1422,"load":2.29,"shade":0},
{"flux":1453,"load":2.0,"shade":0},{"flux":1444,"load":2.05,"shade":0},{"flux":1457,"load":2.1,"shade":0},{"flux":1448,"load":2.17,"shade":0},{"flux":1455,"load":2.24,"shade":0},
{"flux":1473,"load":2.03,"shade":0},{"flux":1464,"load":2.08,"shade":0},{"flux":1477,"load":2.13,"shade":0},{"flux":1468,"load":2.2,"shade":0},{"flux":1475,"load":2.26,"shade":0},
{"flux":1493,"load":2.04,"shade":0},{"flux":1484,"load":2.09,"shade":0},{"flux":1497,"load":2.14,"shade":0},{"flux":1488,"load":2.21,"shade":0},
{"flux":1513,"load":2.05,"shade":0},{"flux":1504,"load":2.1,"shade":0},{"flux":1517,"load":2.15,"shade":0},{"flux":1508,"load":2.21,"shade":0},
{"flux":1533,"load":2.06,"shade":0},{"flux":1524,"load":2.11,"shade":0},{"flux":1537,"load":2.16,"shade":0},{"flux":1528,"load":2.22,"shade":0},
{"flux":1553,"load":2.07,"shade":0},{"flux":1544,"load":2.12,"shade":0},{"flux":1557,"load":2.17,"shade":0},
{"flux":1573,"load":2.08,"shade":0},{"flux":1564,"load":2.13,"shade":0},{"flux":1577,"load":2.18,"shade":0},
{"flux":1593,"load":2.09,"shade":0},{"flux":1584,"load":2.14,"shade":0},{"flux":1597,"load":2.18,"shade":0},
{"flux":1613,"load":2.1,"shade":0},{"flux":1604,"load":2.14,"shade":0},
{"flux":1633,"load":2.1,"shade":0},{"flux":1624,"load":2.13,"shade":0}
],
"phases":[
{"flux":226,"load":0.4,"phase":"Re-Entry"},{"flux":235,"load":0.41,"phase":"Re-Entry"},{"flux":240,"load":0.4,"phase":"Re-Entry"},{"flux":231,"load":0.42,"phase":"Re-Entry"},{"flux":277,"load":0.45,"phase":"Re-Entry"},{"flux":286,"load":0.46,"phase":"Re-Entry"},{"flux":294,"load":0.47,"phase":"Re-Entry"},{"flux":300,"load":0.49,"phase":"Re-Entry"},{"flux":478,"load":0.71,"phase":"Re-Entry"},{"flux":487,"load":0.73,"phase":"Re-Entry"},{"flux":546,"load":0.81,"phase":"Re-Entry"},{"flux":575,"load":0.85,"phase":"Re-Entry"},{"flux":586,"load":0.88,"phase":"Re-Entry"},{"flux":595,"load":0.9,"phase":"Re-Entry"},{"flux":695,"load":1.03,"phase":"Re-Entry"},{"flux":706,"load":1.04,"phase":"Re-Entry"},{"flux":735,"load":1.06,"phase":"Re-Entry"},{"flux":766,"load":1.11,"phase":"Re-Entry"},{"flux":789,"load":1.13,"phase":"Re-Entry"},{"flux":815,"load":1.15,"phase":"Re-Entry"},{"flux":876,"load":1.28,"phase":"Re-Entry"},{"flux":898,"load":1.29,"phase":"Re-Entry"},{"flux":1007,"load":1.45,"phase":"Re-Entry"},{"flux":1032,"load":1.48,"phase":"Re-Entry"},{"flux":1090,"load":1.57,"phase":"Re-Entry"},{"flux":1143,"load":1.6,"phase":"Re-Entry"},{"flux":1196,"load":1.7,"phase":"Re-Entry"},
{"flux":11,"load":0.02,"phase":"Walk-In"},{"flux":18,"load":0.03,"phase":"Walk-In"},{"flux":218,"load":0.31,"phase":"Walk-In"},{"flux":232,"load":0.33,"phase":"Walk-In"},{"flux":240,"load":0.32,"phase":"Walk-In"},{"flux":266,"load":0.37,"phase":"Walk-In"},{"flux":297,"load":0.41,"phase":"Walk-In"},{"flux":395,"load":0.54,"phase":"Walk-In"},{"flux":432,"load":0.57,"phase":"Walk-In"},{"flux":495,"load":0.63,"phase":"Walk-In"},{"flux":500,"load":0.64,"phase":"Walk-In"},{"flux":521,"load":0.67,"phase":"Walk-In"},{"flux":583,"load":0.75,"phase":"Walk-In"},{"flux":600,"load":0.76,"phase":"Walk-In"},{"flux":626,"load":0.79,"phase":"Walk-In"},{"flux":672,"load":0.85,"phase":"Walk-In"},{"flux":681,"load":0.88,"phase":"Walk-In"},{"flux":697,"load":0.89,"phase":"Walk-In"},{"flux":775,"load":0.98,"phase":"Walk-In"},{"flux":884,"load":1.11,"phase":"Walk-In"},{"flux":895,"load":1.13,"phase":"Walk-In"},{"flux":998,"load":1.28,"phase":"Walk-In"},{"flux":1010,"load":1.3,"phase":"Walk-In"},{"flux":1040,"load":1.35,"phase":"Walk-In"},{"flux":1059,"load":1.36,"phase":"Walk-In"},{"flux":1078,"load":1.38,"phase":"Walk-In"},{"flux":1095,"load":1.41,"phase":"Walk-In"},{"flux":1132,"load":1.46,"phase":"Walk-In"},{"flux":1299,"load":1.65,"phase":"Walk-In"},{"flux":1446,"load":1.87,"phase":"Walk-In"}
],
"walkout":[
{"flux":744,"load":2.92},{"flux":716,"load":2.81},{"flux":670,"load":2.78},{"flux":661,"load":2.63},{"flux":615,"load":2.63},{"flux":615,"load":2.55},{"flux":566,"load":2.48},{"flux":577,"load":2.43},{"flux":546,"load":2.26},{"flux":523,"load":2.24},{"flux":498,"load":2.1},{"flux":469,"load":2.09},{"flux":472,"load":2.03},{"flux":441,"load":2.05},{"flux":426,"load":1.94},{"flux":415,"load":1.85},{"flux":452,"load":1.95},{"flux":378,"load":1.77},{"flux":355,"load":1.66},{"flux":335,"load":1.57},{"flux":372,"load":1.69},{"flux":306,"load":1.53},{"flux":308,"load":1.45},{"flux":323,"load":1.49},{"flux":269,"load":1.41},{"flux":274,"load":1.37},{"flux":258,"load":1.34},{"flux":249,"load":1.25},{"flux":235,"load":1.23},{"flux":226,"load":1.21},{"flux":220,"load":1.17},{"flux":212,"load":1.13},{"flux":203,"load":1.11},{"flux":197,"load":1.09},{"flux":191,"load":1.06},{"flux":197,"load":1.01},{"flux":186,"load":0.97},{"flux":180,"load":0.94},{"flux":174,"load":0.92},{"flux":169,"load":0.89},{"flux":163,"load":0.87},{"flux":157,"load":0.85},{"flux":152,"load":0.82},{"flux":143,"load":0.8},{"flux":137,"load":0.77},{"flux":129,"load":0.75},{"flux":123,"load":0.73},{"flux":283,"load":1.44},{"flux":242,"load":1.3},{"flux":345,"load":1.59},{"flux":390,"load":1.73},{"flux":486,"load":2.09}
],
"curves":[
{"curve":"upper","flux":910,"load":4.98},{"curve":"upper","flux":945,"load":4.36},{"curve":"upper","flux":979,"load":3.92},{"curve":"upper","flux":1021,"load":3.53},{"curve":"upper","flux":1061,"load":3.29},{"curve":"upper","flux":1107,"load":3.08},{"curve":"upper","flux":1164,"load":2.86},{"curve":"upper","flux":1244,"load":2.65},{"curve":"upper","flux":1323,"load":2.5},{"curve":"upper","flux":1460,"load":2.3},{"curve":"upper","flux":1632,"load":2.1},{"curve":"upper","flux":1748,"load":2.02},
{"curve":"lower","flux":712,"load":3.89},{"curve":"lower","flux":727,"load":3.01},{"curve":"lower","flux":741,"load":2.48},{"curve":"lower","flux":758,"load":2.09},{"curve":"lower","flux":775,"load":1.85},{"curve":"lower","flux":809,"load":1.61},{"curve":"lower","flux":855,"load":1.42},{"curve":"lower","flux":924,"load":1.25},{"curve":"lower","flux":992,"load":1.16},{"curve":"lower","flux":1061,"load":1.085}
],
"arrows":[
{"name":"upper","flux":1014,"load":4.61,"flux2":949,"load2":4.34},
{"name":"walkout","flux":307,"load":2.29,"flux2":348,"load2":1.86},
{"name":"reentry","flux":393,"load":1.18,"flux2":297,"load2":0.58},
{"name":"walkin","flux":685,"load":0.49,"flux2":623,"load2":0.79},
{"name":"lower","flux":1186,"load":1.05,"flux2":1066,"load2":1.12}
],
"labels":[
{"text":"Control Upper Boundary: T peak = 95ºC","flux":1021,"load":4.74,"name":"upper"},
{"text":"Walk-Out Phase","flux":146,"load":2.39,"name":"walkout"},
{"text":"Re-Entry Phase","flux":403,"load":1.3,"name":"reentry"},
{"text":"Walk-In Phase","flux":671,"load":0.4,"name":"walkin"},
{"text":"Control Lower Boundary:","flux":1196,"load":1.16,"name":"lower"},
{"text":"Dyn.Pres = 0.2 N/m²","flux":1241,"load":0.89,"name":"lower"}
],
"multiplier":[{"text":"x 10⁵","flux":0,"load":5.13}]
},
"layer":[
{"data":{"name":"cloud"},"mark":{"type":"circle","size":28,"opacity":1},
"encoding":{
"x":{"field":"flux","type":"quantitative","scale":{"domain":[0,1800],"nice":false,"zero":false},"axis":{"title":"Heat Flux at pericentre pass (W/m²)","values":[0,200,400,600,800,1000,1200,1400,1600,1800],"format":"d","grid":true,"tickSize":-5,"labelPadding":9,"titlePadding":5}},
"y":{"field":"load","type":"quantitative","scale":{"domain":[0,5],"nice":false,"zero":false},"axis":{"title":"Heat Load per pericentre pass (J/m²)","values":[0,0.5,1,1.5,2,2.5,3,3.5,4,4.5,5],"format":"~g","grid":true,"tickSize":-5,"labelPadding":9,"titlePadding":4}},
"color":{"field":"shade","type":"quantitative","scale":{"type":"pow","exponent":0.5,"domain":[0,10],"range":["#000000","#cdcdcd"]},"legend":null}}},
{"data":{"name":"phases"},"mark":{"type":"circle","size":32,"opacity":1},
"encoding":{
"x":{"field":"flux","type":"quantitative","scale":{"domain":[0,1800],"nice":false,"zero":false},"axis":null},
"y":{"field":"load","type":"quantitative","scale":{"domain":[0,5],"nice":false,"zero":false},"axis":null},
"color":{"field":"phase","type":"nominal","scale":{"domain":["Re-Entry","Walk-In"],"range":["#00ff00","#00ffff"]},"legend":null}}},
{"data":{"name":"walkout"},"mark":{"type":"point","shape":"circle","filled":false,"size":44,"stroke":"#3a3a3a","strokeWidth":0.9,"opacity":1},
"encoding":{
"x":{"field":"flux","type":"quantitative","scale":{"domain":[0,1800],"nice":false,"zero":false},"axis":null},
"y":{"field":"load","type":"quantitative","scale":{"domain":[0,5],"nice":false,"zero":false},"axis":null}}},
{"data":{"name":"curves"},"mark":{"type":"line","strokeWidth":2,"interpolate":"monotone"},
"encoding":{
"x":{"field":"flux","type":"quantitative","scale":{"domain":[0,1800],"nice":false,"zero":false},"axis":{"orient":"top","labels":false,"title":null,"grid":false,"tickSize":-5,"values":[0,200,400,600,800,1000,1200,1400,1600,1800]}},
"y":{"field":"load","type":"quantitative","scale":{"domain":[0,5],"nice":false,"zero":false},"axis":{"orient":"right","labels":false,"title":null,"grid":false,"tickSize":-5,"values":[0,0.5,1,1.5,2,2.5,3,3.5,4,4.5,5]}},
"detail":{"field":"curve"},
"color":{"field":"curve","type":"nominal","scale":{"domain":["upper","lower"],"range":["#ff0000","#0000ff"]},"legend":null}}},
{"data":{"name":"arrows"},"mark":{"type":"rule","strokeWidth":1},
"encoding":{
"x":{"field":"flux","type":"quantitative","scale":{"domain":[0,1800],"nice":false,"zero":false},"axis":null},
"y":{"field":"load","type":"quantitative","scale":{"domain":[0,5],"nice":false,"zero":false},"axis":null},
"x2":{"field":"flux2"},"y2":{"field":"load2"},
"color":{"field":"name","type":"nominal","scale":{"domain":["upper","walkout","reentry","walkin","lower"],"range":["#ff0000","#000000","#00ff00","#00ffff","#0000ff"]},"legend":null}}},
{"data":{"name":"arrows"},"mark":{"type":"point","shape":"M0,0L-0.38,1L0.38,1Z","filled":true,"size":300,"opacity":1},
"encoding":{
"x":{"field":"flux2","type":"quantitative","scale":{"domain":[0,1800],"nice":false,"zero":false},"axis":null},
"y":{"field":"load2","type":"quantitative","scale":{"domain":[0,5],"nice":false,"zero":false},"axis":null},
"angle":{"field":"name","type":"nominal","scale":{"domain":["upper","walkout","reentry","walkin","lower"],"range":[225,158,214,319,278]},"legend":null},
"color":{"field":"name","type":"nominal","scale":{"domain":["upper","walkout","reentry","walkin","lower"],"range":["#ff0000","#000000","#00ff00","#00ffff","#0000ff"]},"legend":null}}},
{"data":{"name":"labels"},"mark":{"type":"text","align":"left","baseline":"middle","fontSize":12.5,"font":"Liberation Sans"},
"encoding":{
"x":{"field":"flux","type":"quantitative","scale":{"domain":[0,1800],"nice":false,"zero":false},"axis":null},
"y":{"field":"load","type":"quantitative","scale":{"domain":[0,5],"nice":false,"zero":false},"axis":null},
"text":{"field":"text"},
"color":{"field":"name","type":"nominal","scale":{"domain":["upper","walkout","reentry","walkin","lower"],"range":["#ff0000","#000000","#00ff00","#00ffff","#0000ff"]},"legend":null}}},
{"data":{"name":"multiplier"},"mark":{"type":"text","align":"left","baseline":"middle","fontSize":13,"font":"Liberation Sans","color":"#000"},
"encoding":{
"x":{"field":"flux","type":"quantitative","scale":{"domain":[0,1800],"nice":false,"zero":false},"axis":null},
"y":{"field":"load","type":"quantitative","scale":{"domain":[0,5],"nice":false,"zero":false},"axis":null},
"text":{"field":"text"}}}
],
"resolve":{"scale":{"color":"independent","angle":"independent"},"axis":{"x":"independent","y":"independent"}}
}
